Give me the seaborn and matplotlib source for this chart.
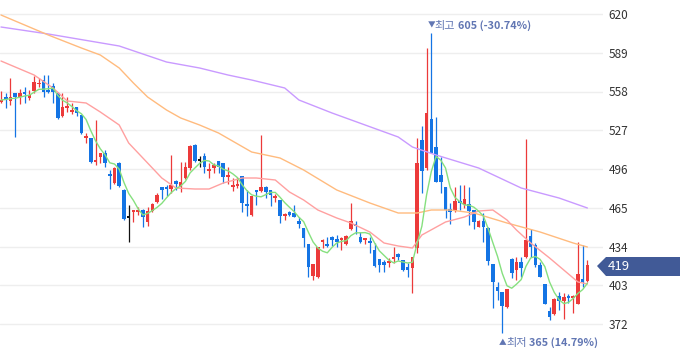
import numpy as np
import pandas as pd
import seaborn as sns
import matplotlib.pyplot as plt
from matplotlib.patches import Polygon
from matplotlib.transforms import offset_copy

# daily candles
opens = [549.6, 553.8, 550.4, 556.8, 553.6, 557.6, 553.0, 558.4, 563.8, 567.2,
         559.2, 562.4, 556.8, 538.4, 545.0, 541.6, 545.6, 539.2, 520.8, 520.8,
         501.6, 505.6, 508.8, 492.0, 484.8, 500.8, 479.2, 456.8, 461.6, 461.6,
         463.2, 453.6, 462.4, 469.6, 481.6, 481.6, 480.0, 486.4, 481.6, 488.8,
         496.8, 515.2, 502.4, 506.4, 494.4, 496.8, 502.4, 500.8, 489.6, 481.6,
         482.4, 490.4, 467.2, 459.2, 479.2, 478.4, 481.6, 479.2, 472.8, 471.2,
         458.6, 461.6, 460.8, 454.4, 448.8, 436.0, 410.4, 409.6, 437.6, 436.0,
         441.6, 440.0, 439.2, 436.0, 448.0, 451.2, 441.6, 439.2, 437.6, 431.2,
         424.0, 421.6, 420.8, 424.0, 428.0, 423.2, 417.6, 416.8, 432.8, 519.2,
         496.8, 536.0, 513.6, 491.2, 481.6, 464.0, 462.4, 470.4, 467.2, 468.0,
         463.2, 449.6, 454.4, 448.8, 420.0, 401.6, 397.6, 385.6, 424.0, 415.2,
         421.6, 425.6, 442.4, 435.2, 419.2, 404.0, 382.4, 380.0, 394.4, 390.4,
         394.4, 392.8, 388.0, 408.0, 406.4]
highs = [558.4, 556.8, 568.8, 557.0, 560.0, 561.6, 559.2, 570.4, 568.8, 571.2,
         571.2, 564.8, 557.6, 556.8, 553.6, 548.8, 545.6, 539.2, 524.8, 520.8,
         535.2, 508.8, 511.2, 495.2, 497.6, 501.6, 480.0, 467.2, 462.4, 465.6,
         464.0, 465.6, 468.8, 476.8, 481.6, 483.2, 507.2, 487.2, 501.6, 501.6,
         515.2, 516.0, 506.4, 508.8, 500.8, 500.8, 502.4, 500.8, 497.6, 488.8,
         489.6, 490.4, 479.2, 474.4, 479.2, 523.2, 482.4, 479.2, 476.0, 471.2,
         460.8, 462.4, 467.2, 457.6, 448.8, 436.0, 420.0, 433.6, 440.0, 441.6,
         442.4, 443.2, 441.6, 443.2, 468.8, 454.4, 445.6, 440.8, 441.6, 436.8,
         424.0, 423.2, 424.8, 433.6, 428.8, 423.2, 420.8, 425.6, 520.8, 530.4,
         592.8, 605.0, 537.6, 505.6, 481.6, 468.8, 481.6, 483.2, 483.2, 481.6,
         463.2, 455.2, 460.8, 449.6, 420.0, 405.6, 397.6, 400.0, 424.8, 425.6,
         425.6, 520.0, 448.0, 436.8, 421.6, 404.0, 385.6, 392.8, 397.6, 396.8,
         396.0, 395.2, 437.6, 435.2, 423.2]
lows = [548.8, 544.8, 547.2, 521.6, 548.0, 548.8, 551.2, 556.8, 561.6, 553.6,
        556.8, 548.8, 536.0, 537.6, 541.6, 540.0, 538.4, 524.0, 516.8, 500.6,
        499.2, 500.8, 497.6, 480.0, 484.0, 481.6, 455.2, 437.6, 453.6, 459.2,
        449.6, 450.4, 461.6, 468.8, 472.0, 474.4, 476.8, 479.2, 477.6, 488.0,
        495.2, 501.6, 497.6, 492.8, 488.8, 492.8, 492.8, 484.8, 484.0, 478.4,
        480.8, 461.6, 458.4, 458.4, 467.2, 477.6, 472.8, 466.4, 469.6, 452.8,
        455.2, 458.4, 457.6, 448.8, 433.6, 409.6, 407.2, 408.8, 432.8, 433.6,
        434.4, 433.6, 431.2, 435.2, 447.2, 444.0, 436.8, 436.0, 428.8, 417.6,
        413.6, 413.6, 417.6, 420.8, 423.2, 414.4, 409.6, 396.8, 428.8, 476.8,
        495.2, 508.8, 485.6, 476.8, 456.8, 452.0, 461.6, 463.2, 464.8, 451.2,
        448.0, 449.6, 437.6, 419.2, 384.8, 391.2, 365.0, 384.8, 408.8, 407.2,
        409.6, 424.8, 425.6, 417.6, 409.6, 388.0, 375.2, 379.2, 383.2, 376.0,
        388.8, 380.8, 388.0, 401.6, 405.6]
closes = [551.2, 552.0, 553.6, 553.6, 556.8, 556.0, 555.2, 565.6, 565.0, 557.6,
          557.6, 557.6, 536.8, 545.6, 546.6, 543.2, 540.8, 524.8, 522.4, 501.6,
          503.2, 508.8, 500.8, 490.4, 496.8, 482.4, 456.0, 456.8, 462.4, 463.2,
          457.6, 462.4, 468.0, 475.2, 479.2, 480.0, 483.2, 484.0, 485.6, 497.6,
          514.4, 502.4, 502.4, 497.6, 495.2, 499.2, 497.6, 489.6, 491.2, 483.2,
          484.0, 468.8, 466.4, 474.4, 477.6, 481.6, 477.6, 475.2, 474.4, 458.4,
          459.8, 459.2, 457.6, 452.0, 440.8, 417.6, 420.0, 433.6, 439.2, 434.4,
          439.2, 437.6, 440.0, 442.4, 454.4, 450.4, 437.6, 440.8, 436.8, 418.4,
          419.2, 419.2, 422.4, 425.6, 425.6, 415.2, 415.2, 425.6, 500.8, 494.4,
          540.8, 508.8, 485.6, 485.6, 463.2, 461.6, 470.4, 468.8, 472.0, 462.4,
          453.6, 454.4, 449.6, 422.4, 405.6, 398.4, 386.4, 400.0, 412.8, 421.6,
          416.8, 439.2, 433.6, 419.2, 409.6, 388.0, 377.6, 392.0, 390.4, 393.6,
          392.8, 393.6, 412.0, 405.6, 419.0]

# longer moving averages, read at sample candles
ma20_idx = [0, 7, 11, 14, 18, 21, 25, 27, 30, 34, 37, 41, 44, 47, 51, 54, 58, 61,
            64, 67, 71, 74, 78, 81, 84, 87, 89, 94, 98, 101, 104, 107, 109, 112,
            116, 119, 122, 124]
ma20_val = [582.4, 571.2, 560.8, 550.4, 548.8, 541.6, 531.2, 516.8, 504.8, 488.8,
            480.8, 480.0, 480.0, 484.8, 488.8, 488.8, 487.2, 477.6, 471.2, 463.2,
            456.8, 452.8, 445.6, 436.8, 434.4, 432.8, 443.2, 453.6, 457.6, 462.4,
            463.2, 455.2, 447.2, 436.8, 424.8, 415.2, 405.6, 404.0]
ma60_idx = [0, 10, 17, 21, 25, 28, 31, 35, 38, 42, 46, 53, 59, 64, 71, 78, 84, 88,
            91, 95, 100, 107, 114, 121, 124]
ma60_val = [619.2, 603.2, 592.8, 587.2, 576.8, 564.8, 553.6, 543.2, 536.8, 531.2,
            524.8, 509.6, 504.8, 495.2, 479.2, 468.8, 460.8, 460.8, 463.2, 463.2,
            460.8, 452.8, 445.6, 436.8, 433.6]
ma120_idx = [0, 10, 25, 35, 42, 48, 53, 60, 63, 70, 77, 84, 87, 92, 101, 110, 118, 124]
ma120_val = [609.6, 604.0, 594.4, 581.6, 576.8, 571.2, 567.2, 560.8, 551.2, 540.8,
             531.2, 521.6, 513.6, 507.2, 496.8, 480.8, 472.8, 464.8]

yticks = [372, 403, 434, 465, 496, 527, 558, 589, 620]
high_label = ("최고", "605 (-30.74%)")
low_label = ("최저", "365 (14.79%)")
last_price = "419"

df = pd.DataFrame({"o": opens, "h": highs, "l": lows, "c": closes})
df["i"] = np.arange(len(df))
df["ma5"] = df["c"].rolling(5, min_periods=1).mean()

sns.set_style("white")
plt.rcParams["font.family"] = ["Noto Sans CJK KR", "DejaVu Sans"]

RED, BLUE = "#ec3a3a", "#1474e4"
col = np.where(df.c > df.o, RED, np.where(df.c < df.o, BLUE, "#111111"))

fig = plt.figure(figsize=(6.8, 3.58), dpi=100)
ax = fig.add_axes([0, 0, 603 / 680, 1])

ax.vlines(df.i, df.l, df.h, colors=col, lw=0.9, zorder=2)
body = np.maximum((df.c - df.o).abs(), 1.2)
ax.bar(df.i, body, bottom=np.minimum(df.o, df.c), width=0.76, color=col,
       linewidth=0, zorder=3)

sns.lineplot(x=ma120_idx, y=ma120_val, color="#c99aff", lw=1.0, ax=ax, zorder=4)
sns.lineplot(x=ma60_idx, y=ma60_val, color="#ffbb7e", lw=1.0, ax=ax, zorder=4)
sns.lineplot(x=ma20_idx, y=ma20_val, color="#ffa0a0", lw=1.0, ax=ax, zorder=4)
sns.lineplot(data=df, x="i", y="ma5", color="#86e07f", lw=1.0, ax=ax, zorder=5)

ax.set_xlim(-0.21, 127.3)
ax.set_ylim(344.8, 631.2)
ax.set_yticks(yticks)
ax.set_xticks([])
ax.yaxis.tick_right()
ax.tick_params(axis="y", length=0, pad=4, labelsize=8.5, labelcolor="#333333")
ax.grid(axis="y", color="#eeeeee", lw=1)
ax.set_xlabel("")
ax.set_ylabel("")
for s in ax.spines.values():
    s.set_visible(False)

# high / low markers
ann = "#6176b3"
hi = int(np.argmax(df.h))
lo = int(np.argmin(df.l))
ax.text(hi, 610.4, "▼", ha="center", va="center", fontsize=5.5, color=ann)
ax.text(hi, 610.4, high_label[0], ha="left", va="center", fontsize=8, color=ann,
        transform=offset_copy(ax.transData, fig, x=3, y=0, units="dots"))
ax.text(hi, 610.4, high_label[1], ha="left", va="center", fontsize=7.8, color=ann,
        fontweight="bold",
        transform=offset_copy(ax.transData, fig, x=27, y=0, units="dots"))
ax.text(lo, 356.8, "▲", ha="center", va="center", fontsize=5.5, color=ann)
ax.text(lo, 356.8, low_label[0], ha="left", va="center", fontsize=8, color=ann,
        transform=offset_copy(ax.transData, fig, x=4, y=0, units="dots"))
ax.text(lo, 356.8, low_label[1], ha="left", va="center", fontsize=7.8, color=ann,
        fontweight="bold",
        transform=offset_copy(ax.transData, fig, x=27, y=0, units="dots"))

# current price tag
W, H = 680, 358
pts = [(597, 266), (606, 257), (680, 257), (680, 276), (606, 276)]
fig.patches.append(Polygon([(x / W, 1 - y / H) for x, y in pts], closed=True,
                           transform=fig.transFigure, facecolor="#415a97",
                           edgecolor="none", zorder=10))
fig.text(608 / W, 1 - 266.5 / H, last_price, ha="left", va="center", fontsize=9.5,
         color="white", zorder=11)

fig.savefig("out.png", dpi=100)
